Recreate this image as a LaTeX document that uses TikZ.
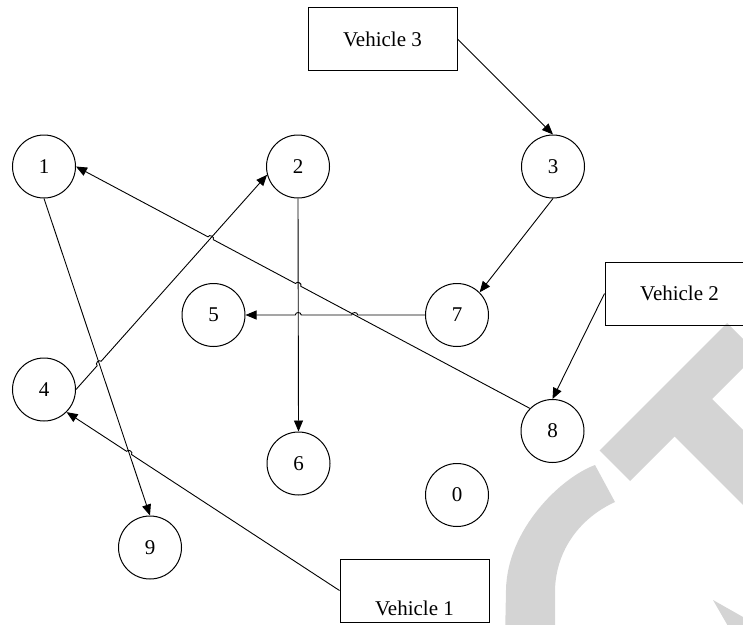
\documentclass[tikz,border=0pt]{standalone}
\usepackage{fontspec}
\setmainfont{Liberation Serif}
\usetikzlibrary{arrows.meta,calc,intersections}
\begin{document}
\begin{tikzpicture}[x=1pt,y=-1pt,
  every node/.style={font=\fontsize{21}{23}\selectfont},
  city/.style={circle,draw,line width=1pt,minimum size=63pt,inner sep=0pt},
  vbox/.style={rectangle,draw,line width=1pt,minimum width=149pt,minimum height=63pt,inner sep=0pt},
  conn/.style={line width=0.9pt,-{Triangle[length=11pt,width=9pt]}},
  hopr/.style={bend right=90,looseness=1.4},
  hopl/.style={bend left=90,looseness=1.4},
  stamp/.style={fill=black!17,draw=none}
]
\useasboundingbox (0,0) rectangle (743,624);
\clip (0,0) rectangle (743,624);

% faint stamp lettering in the lower right corner
\fill[stamp] (599.5,450.5) -- (727,323) -- (757.5,353.5) -- (712,399)
  -- (856.5,543.5) -- (819,581) -- (674.5,436.5) -- (630,481) -- cycle;
\fill[stamp] (595,465) .. controls (560,478) and (507,530) .. (506,590)
  -- (505,640) -- (555,640) -- (555,590)
  .. controls (556,550) and (580,518) .. (615,502) -- cycle;
\fill[stamp] (713,600) -- (760,626.6) -- (760,640) -- (736,640) -- cycle;

% customers
\node[city] (n1) at (44,166.5) {1};
\node[city] (n2) at (298,166.5) {2};
\node[city] (n3) at (553,166.5) {3};
\node[city] (n5) at (213.5,315) {5};
\node[city] (n7) at (457,315) {7};
\node[city] (n4) at (44,389.5) {4};
\node[city] (n8) at (552.5,431) {8};
\node[city] (n6) at (298.5,463.5) {6};
\node[city] (n0) at (457,495) {0};
\node[city] (n9) at (150,547.5) {9};

% vehicles
\node[vbox] (v3) at (382.5,39) {Vehicle 3};
\node[vbox] (v2) at (679.5,293.5) {Vehicle 2};
\node[vbox,label={[anchor=base,inner sep=0pt,yshift=7pt]south:Vehicle 1}] (v1) at (414.5,590.5) {};

% crossing points of the routes
\path[name path=c81] (n8.north west) -- (n1.east);
\path[name path=c42] (n4.east) -- (n2.195);
\path[name path=c19] (n1.south) -- (n9.north);
\path[name path=c26] (n2.south) -- (n6.north);
\path[name path=c75] (n7.west) -- (n5.east);
\path[name path=cv1] (v1.west) -- (n4.south east);
\path[name intersections={of=c81 and c42,by=h1}];
\path[name intersections={of=c81 and c26,by=h2}];
\path[name intersections={of=c75 and c26,by=h3}];
\path[name intersections={of=c75 and c81,by=h4}];
\path[name intersections={of=c42 and c19,by=h5}];
\path[name intersections={of=cv1 and c19,by=h6}];

% routes
\draw[conn] (v3.east) -- (n3.north);
\draw[conn] (n3.south) -- (n7.north east);
\draw[conn] (v2.west) -- (n8.north);
\draw[conn] (n2.south) -- (n6.north);
\draw[conn] (n1.south) -- (n9.north);
\draw[conn] (n8.north west) -- ($(h2)!3pt!(n8.north west)$) to[hopr] ($(h2)!3pt!(n1.east)$)
  -- ($(h1)!3pt!(n8.north west)$) to[hopr] ($(h1)!3pt!(n1.east)$) -- (n1.east);
\draw[conn] (n7.west) -- ($(h4)!3pt!(n7.west)$) to[hopr] ($(h4)!3pt!(n5.east)$)
  -- ($(h3)!3pt!(n7.west)$) to[hopr] ($(h3)!3pt!(n5.east)$) -- (n5.east);
\draw[conn] (n4.east) -- ($(h5)!3pt!(n4.east)$) to[hopl] ($(h5)!3pt!(n2.195)$) -- (n2.195);
\draw[conn] (v1.west) -- ($(h6)!3pt!(v1.west)$) to[hopr] ($(h6)!3pt!(n4.south east)$) -- (n4.south east);
\end{tikzpicture}
\end{document}
